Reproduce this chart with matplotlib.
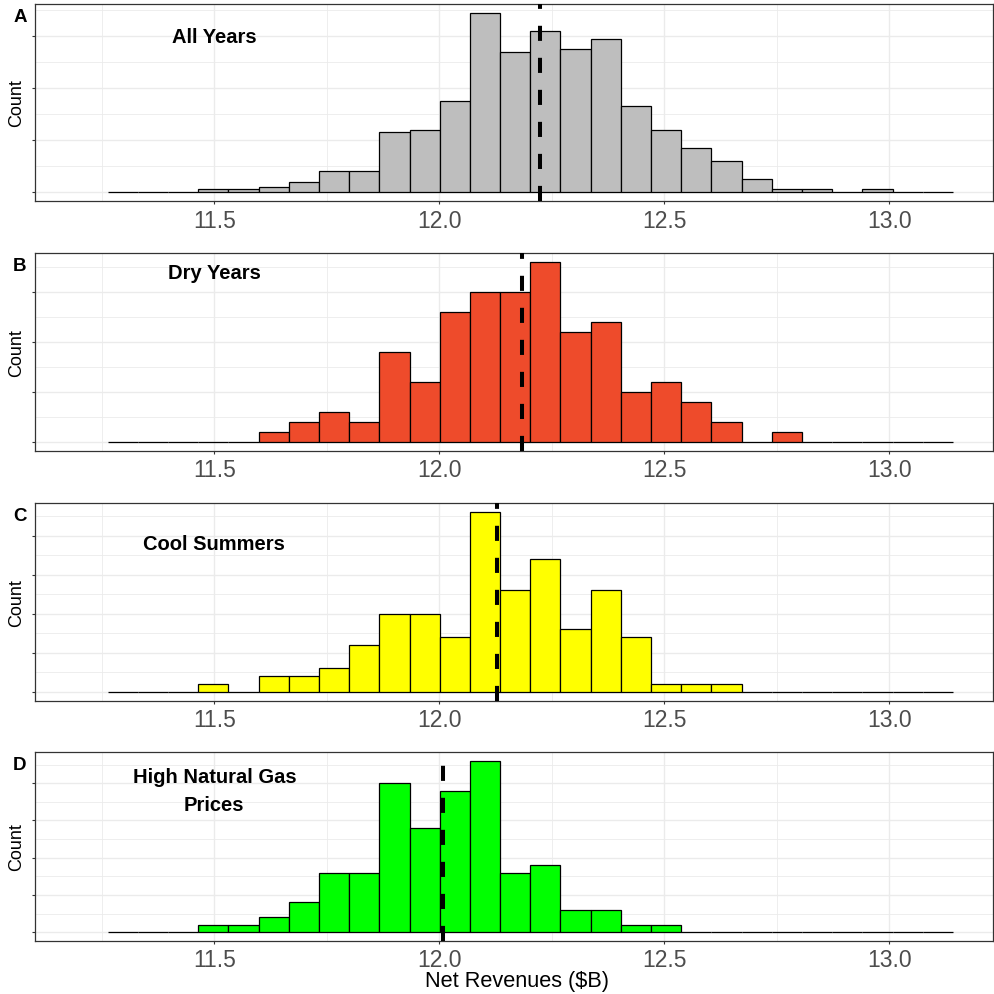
import numpy as np
import matplotlib.pyplot as plt
from matplotlib.ticker import MultipleLocator

plt.rcParams["font.family"] = ["Liberation Sans", "DejaVu Sans"]

# Histogram bins (net revenues, $B)
bin_start = 11.263
bin_width = 0.0671
n_bins = 28

# Counts per bin for each scenario
counts_all = [0, 0, 0, 1, 1, 2, 4, 8, 8, 23, 24, 35, 69, 54,
              62, 55, 59, 33, 24, 17, 12, 5, 1, 1, 0, 1, 0, 0]
counts_dry = [0, 0, 0, 0, 0, 1, 2, 3, 2, 9, 6, 13, 15, 15,
              18, 11, 12, 5, 6, 4, 2, 0, 1, 0, 0, 0, 0, 0]
counts_cool = [0, 0, 0, 1, 0, 2, 2, 3, 6, 10, 10, 7, 23, 13,
               17, 8, 13, 7, 1, 1, 1, 0, 0, 0, 0, 0, 0, 0]
counts_gas = [0, 0, 0, 1, 1, 2, 4, 8, 8, 20, 14, 19, 23, 8,
              9, 3, 3, 1, 1, 0, 0, 0, 0, 0, 0, 0, 0, 0]

# Mean net revenue per scenario
means = [12.224, 12.185, 12.129, 12.008]

titles = ["All Years", "Dry Years", "Cool Summers", "High Natural Gas\nPrices"]
letters = ["A", "B", "C", "D"]
fills = ["#BEBEBE", "#EE4B2B", "#FFFF00", "#00FF00"]
y_major = [20, 5, 5, 5]
title_y = [60, 17, 19, 19]

series = [counts_all, counts_dry, counts_cool, counts_gas]

# panel boxes in pixels: (top, bottom)
W = 995.0
left_px, right_px = 35.3, 993.0
boxes = [(5.0, 202.0), (254.3, 451.7), (504.3, 701.7), (753.3, 941.7)]

edges = bin_start + bin_width * np.arange(n_bins + 1)
centers = edges[:-1] + bin_width / 2

fig = plt.figure(figsize=(W / 100, W / 100), dpi=100)

for i, counts in enumerate(series):
    top, bottom = boxes[i]
    ax = fig.add_axes([left_px / W, 1 - bottom / W,
                       (right_px - left_px) / W, (bottom - top) / W])

    ax.bar(centers, counts, width=bin_width, color=fills[i],
           edgecolor="black", linewidth=0.9, zorder=2)
    ax.axvline(means[i], color="black", linewidth=2.9,
               linestyle=(0, (3.75, 4.2)), zorder=3)

    cmax = max(counts)
    ax.set_ylim(-0.05 * cmax, 1.05 * cmax)
    ax.set_xlim(11.102, 13.231)

    ax.xaxis.set_major_locator(MultipleLocator(0.5))
    ax.xaxis.set_minor_locator(MultipleLocator(0.25))
    ax.yaxis.set_major_locator(MultipleLocator(y_major[i]))
    ax.yaxis.set_minor_locator(MultipleLocator(y_major[i] / 2))

    ax.grid(which="major", color="#EBEBEB", linewidth=1.0, zorder=0)
    ax.grid(which="minor", color="#EBEBEB", linewidth=0.6, zorder=0)
    ax.set_axisbelow(True)

    ax.tick_params(axis="x", which="major", length=2.5, width=0.8,
                   color="#333333", labelsize=16.5, labelcolor="#4D4D4D", pad=3)
    ax.tick_params(axis="y", which="major", length=2.5, width=0.8,
                   color="#333333", labelleft=False)
    ax.tick_params(which="minor", length=0)
    ax.xaxis.set_major_formatter(plt.FuncFormatter(lambda v, p: f"{v:.1f}"))

    for s in ax.spines.values():
        s.set_color("#333333")
        s.set_linewidth(0.9)

    ax.text(11.5, title_y[i], titles[i], ha="center", va="center",
            fontsize=14.5, fontweight="bold", linespacing=1.6, zorder=4)

    fig.text(20 / W, 1 - (top + 12) / W, letters[i], ha="center", va="center",
             fontsize=13.5, fontweight="bold")
    fig.text(17 / W, 1 - (top + bottom) / 2 / W, "Count", rotation=90,
             ha="center", va="center", fontsize=13)

fig.text(517 / W, 1 - 982 / W, "Net Revenues ($B)", ha="center", va="center",
         fontsize=15.7)

fig.savefig("out.png", dpi=100, facecolor="white")
